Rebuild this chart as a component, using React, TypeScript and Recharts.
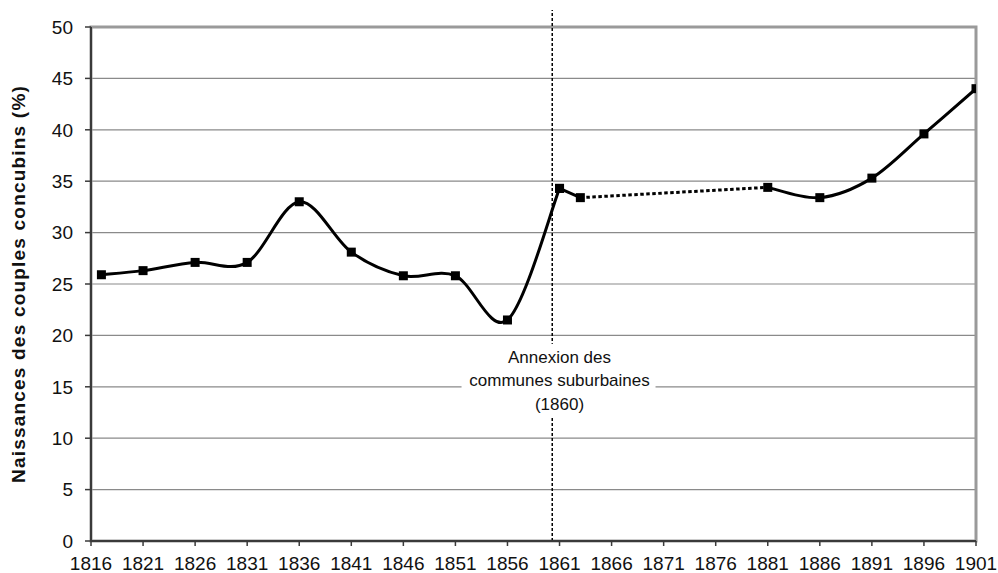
import React from 'react';
import { LineChart, Line, XAxis, YAxis, CartesianGrid, ReferenceLine, ReferenceDot, ReferenceArea } from 'recharts';

// Data
const yearsA = [1817, 1821, 1826, 1831, 1836, 1841, 1846, 1851, 1856, 1861];
const valuesA = [25.9, 26.3, 27.1, 27.1, 33.0, 28.1, 25.8, 25.8, 21.5, 34.3];
const yearsLink = [1861, 1863];
const valuesLink = [34.3, 33.4];
const yearsGap = [1863, 1881];
const valuesGap = [33.4, 34.4];
const yearsC = [1881, 1886, 1891, 1896, 1901];
const valuesC = [34.4, 33.4, 35.3, 39.6, 44.0];

const xTicks = [1816, 1821, 1826, 1831, 1836, 1841, 1846, 1851, 1856, 1861, 1866, 1871, 1876, 1881, 1886, 1891, 1896, 1901];
const yTicks = [0, 5, 10, 15, 20, 25, 30, 35, 40, 45, 50];
const annexYear = 1860.3;
const annexLines = ['Annexion des', 'communes suburbaines', '(1860)'];
const yLabel = 'Naissances des couples concubins (%)';

const toRows = (xs: number[], vs: number[]) => xs.map((year, i) => ({ year, value: vs[i] }));
const dataA = toRows(yearsA, valuesA);
const dataLink = toRows(yearsLink, valuesLink);
const dataGap = toRows(yearsGap, valuesGap);
const dataC = toRows(yearsC, valuesC);

const FONT = '"Liberation Sans", Arial, sans-serif';

// Catmull-Rom (Excel-like) smoothing curve factory
function smoothCurve(context: any) {
  let pts: number[][] = [];
  return {
    areaStart() {},
    areaEnd() {},
    lineStart() { pts = []; },
    lineEnd() {
      const n = pts.length;
      if (!n) return;
      context.moveTo(pts[0][0], pts[0][1]);
      if (n === 2) { context.lineTo(pts[1][0], pts[1][1]); return; }
      for (let i = 0; i < n - 1; i++) {
        const p0 = pts[i - 1] || pts[i];
        const p1 = pts[i];
        const p2 = pts[i + 1];
        const p3 = pts[i + 2] || p2;
        context.bezierCurveTo(
          p1[0] + (p2[0] - p0[0]) / 6, p1[1] + (p2[1] - p0[1]) / 6,
          p2[0] - (p3[0] - p1[0]) / 6, p2[1] - (p3[1] - p1[1]) / 6,
          p2[0], p2[1]
        );
      }
    },
    point(x: number, y: number) { pts.push([+x, +y]); },
  };
}

const SquareDot = (props: any) => {
  const { cx, cy } = props;
  if (cx == null || cy == null) return null;
  return <rect x={cx - 4.5} y={cy - 4.5} width={9} height={9} fill="#000" />;
};

const AnnexBox = (props: any) => {
  const { cx, cy } = props;
  if (cx == null || cy == null) return null;
  return (
    <g>
      <rect x={cx - 98} y={cy - 43} width={194} height={73} fill="#fff" />
      {annexLines.map((t, i) => (
        <text key={i} x={cx} y={cy - 24 + i * 23.5} textAnchor="middle" fontFamily={FONT} fontSize={17} fill="#111">
          {t}
        </text>
      ))}
    </g>
  );
};

const YTitle = () => (
  <text x={25} y={284} transform="rotate(-90 25 284)" textAnchor="middle" fontFamily={FONT} fontWeight="bold" fontSize={19} letterSpacing={1.2} fill="#111">
    {yLabel}
  </text>
);

export default function App() {
  return (
    <div style={{ position: 'absolute', left: 0, top: 0, background: '#fff' }}>
      <LineChart width={998} height={573} margin={{ top: 27, right: 22, bottom: 0, left: 0 }}>
        <CartesianGrid horizontal vertical={false} stroke="#8a8a8a" strokeWidth={1.2} />
        <ReferenceArea x1={1816} x2={1901} y1={0} y2={50} fill="none" stroke="#9a9a9a" strokeWidth={3} />
        <XAxis
          type="number"
          dataKey="year"
          domain={[1816, 1901]}
          ticks={xTicks}
          allowDataOverflow
          interval={0}
          height={32}
          tickSize={5}
          tickMargin={11}
          axisLine={{ stroke: '#3a3a3a', strokeWidth: 2 }}
          tickLine={{ stroke: '#3a3a3a', strokeWidth: 1.5 }}
          tick={{ fontFamily: FONT, fontSize: 19, fill: '#111' }}
        />
        <YAxis
          type="number"
          domain={[0, 50]}
          ticks={yTicks}
          interval={0}
          width={91}
          tickSize={6}
          tickMargin={12}
          axisLine={{ stroke: '#3a3a3a', strokeWidth: 2 }}
          tickLine={{ stroke: '#3a3a3a', strokeWidth: 1.5 }}
          tick={{ fontFamily: FONT, fontSize: 19, fill: '#111' }}
          label={<YTitle />}
        />
        <ReferenceLine
          segment={[{ x: annexYear, y: 0 }, { x: annexYear, y: 51.65 }]}
          ifOverflow="visible"
          stroke="#000"
          strokeWidth={1.5}
          strokeDasharray="3 2"
        />
        <ReferenceDot x={1861} y={15} ifOverflow="visible" shape={<AnnexBox />} />
        <Line data={dataA} dataKey="value" type={smoothCurve as any} stroke="#000" strokeWidth={3} dot={<SquareDot />} activeDot={false} isAnimationActive={false} />
        <Line data={dataLink} dataKey="value" type="linear" stroke="#000" strokeWidth={3} dot={<SquareDot />} activeDot={false} isAnimationActive={false} />
        <Line data={dataGap} dataKey="value" type="linear" stroke="#000" strokeWidth={3} strokeDasharray="3.5 2.5" dot={false} activeDot={false} isAnimationActive={false} />
        <Line data={dataC} dataKey="value" type={smoothCurve as any} stroke="#000" strokeWidth={3} dot={<SquareDot />} activeDot={false} isAnimationActive={false} />
      </LineChart>
    </div>
  );
}
